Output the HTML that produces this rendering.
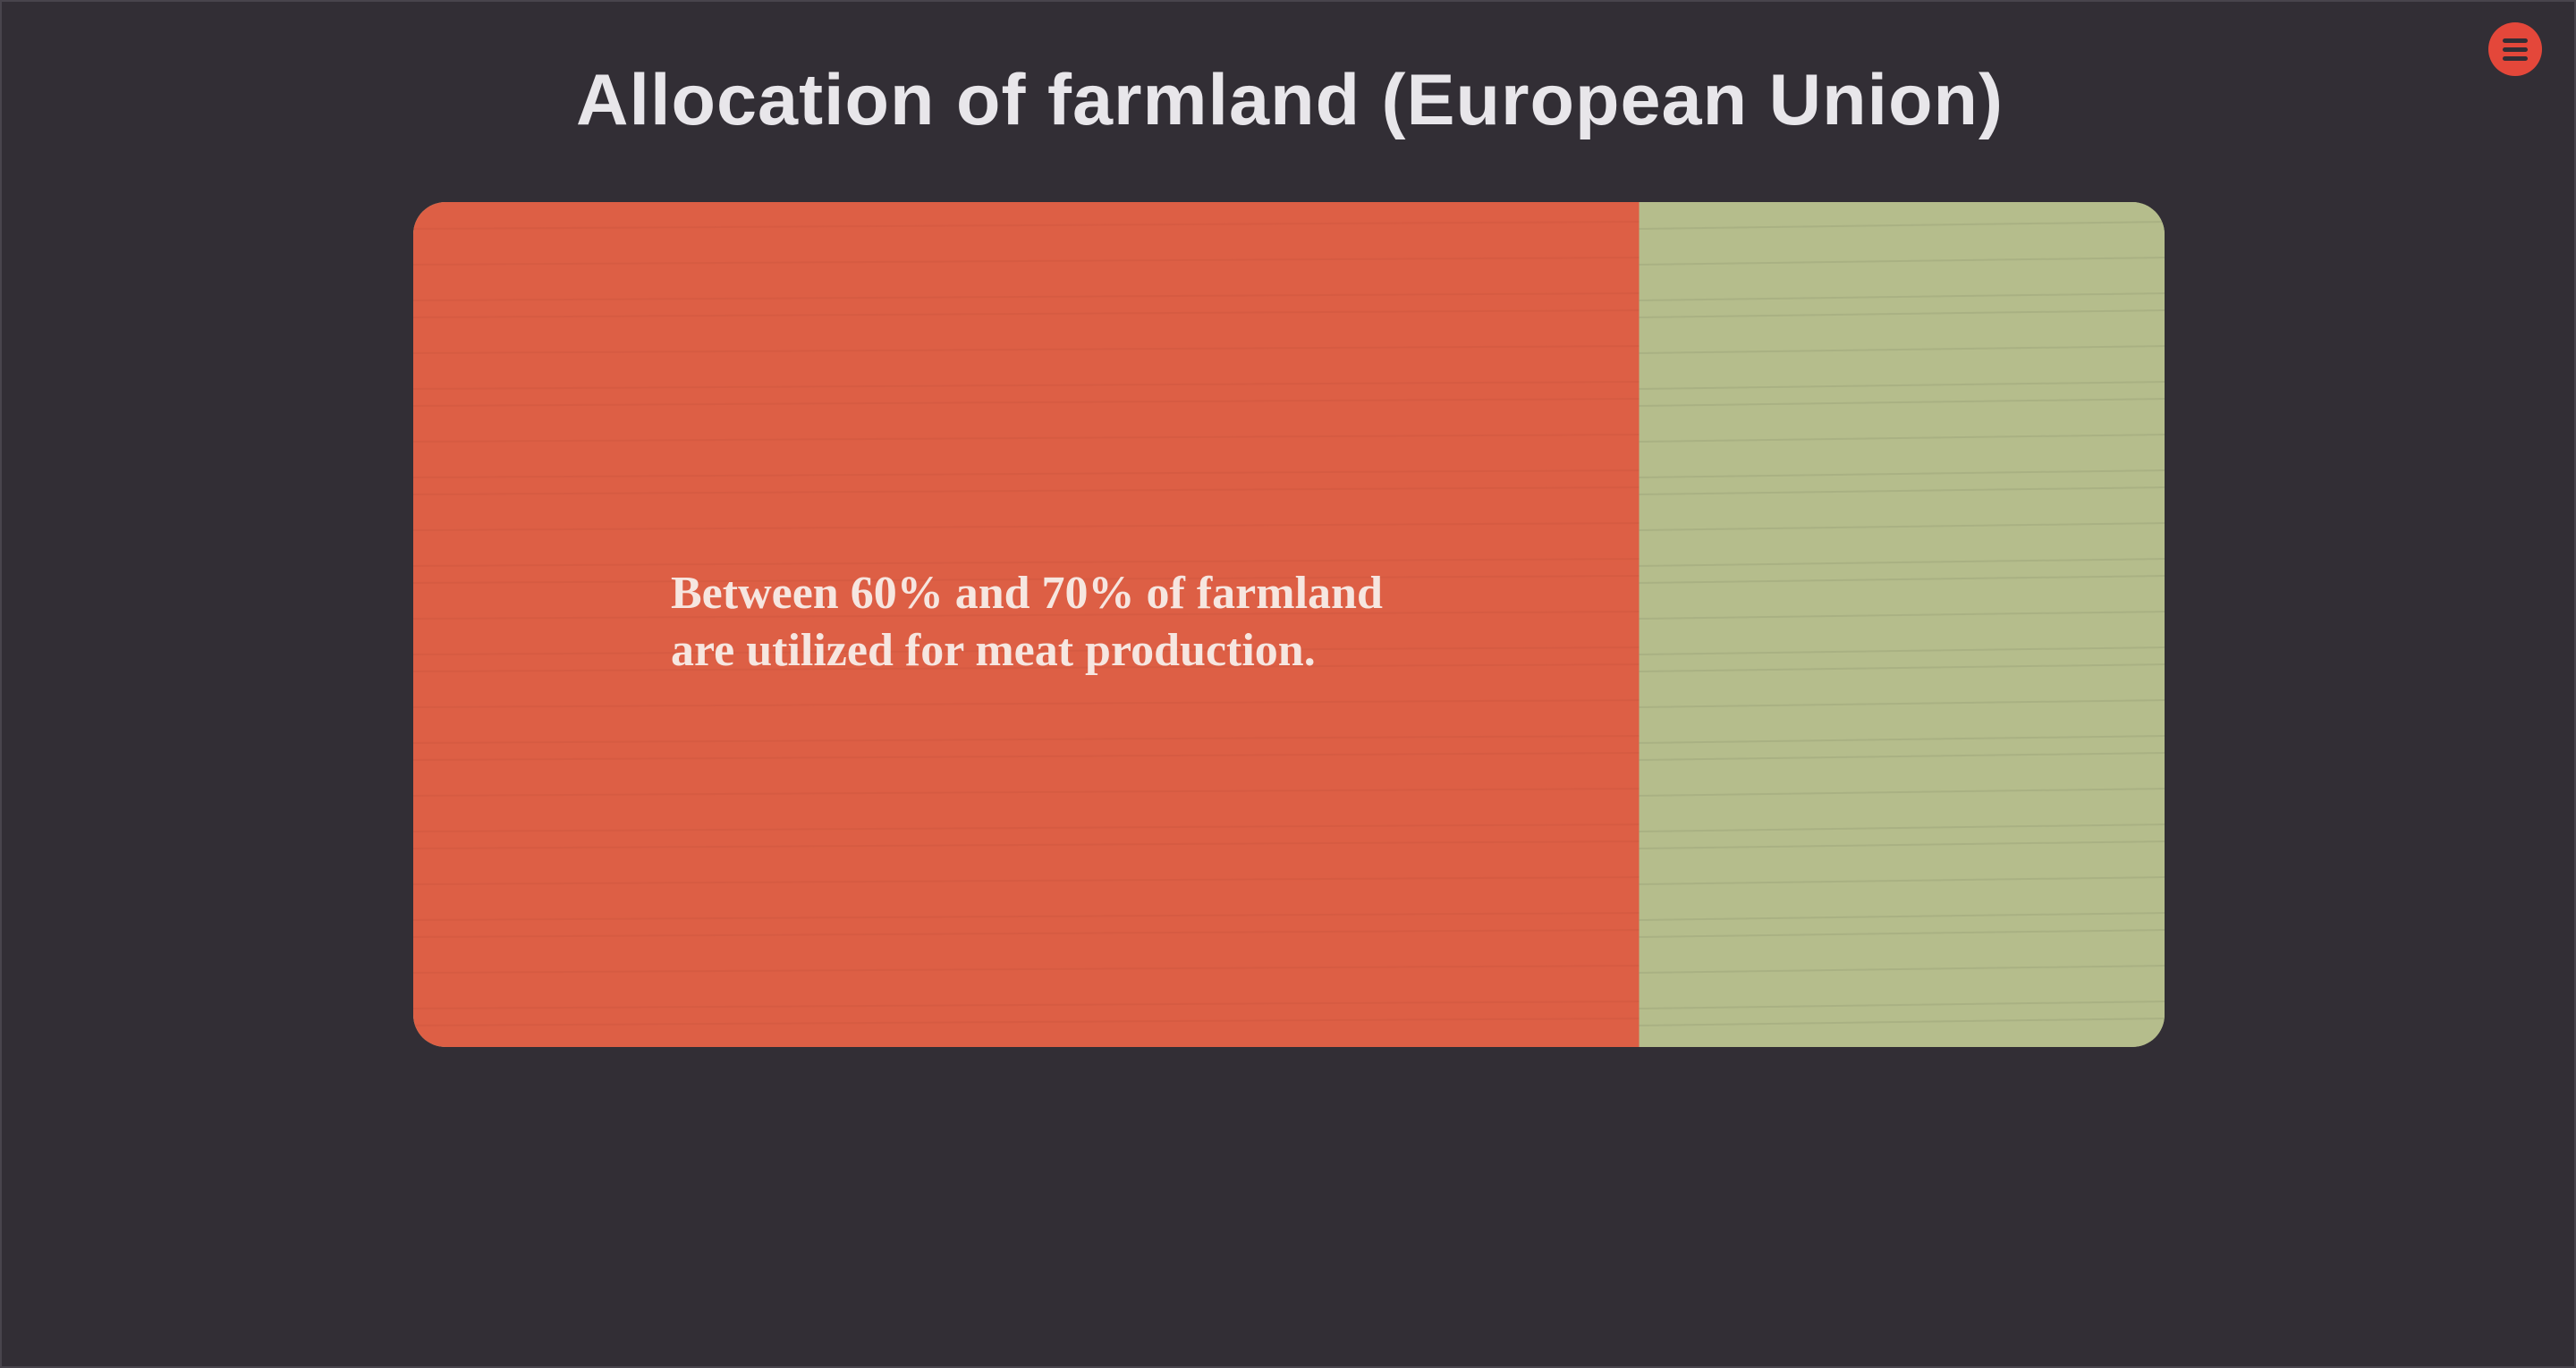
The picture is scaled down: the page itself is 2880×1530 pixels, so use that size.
<!DOCTYPE html>
<html><head><meta charset="utf-8"><style>
html,body{margin:0;padding:0;width:2880px;height:1530px;overflow:hidden;background:#322e35;}
body{position:relative;box-sizing:border-box;border:2px solid #48444c;}
#title{position:absolute;left:0;width:2880px;top:64px;text-align:center;font-family:"Liberation Sans",sans-serif;font-weight:bold;font-size:81px;color:#e8e6ea;letter-spacing:1px;margin:0}
#card{position:absolute;left:460px;top:224px;width:1958px;height:945px;border-radius:36px;overflow:hidden;background:#b5bd8c}
#msg{position:absolute;left:748px;top:630px;font-family:"Liberation Serif",serif;font-weight:bold;font-size:52px;line-height:64px;color:#f6e6e0}
#menu{position:absolute;left:2780px;top:23px;width:60px;height:60px;border-radius:50%;background:#e4473a}
#menu span{position:absolute;left:16px;width:28px;height:5px;border-radius:3px;background:#322e35}
</style></head><body>
<h1 id="title">Allocation of farmland (European Union)</h1>
<div id="card">
<svg width="1958" height="945" style="position:absolute;left:0;top:0" id="svg"></svg>
</div>
<div id="msg">Between 60% and 70% of farmland<br>are utilized for meat production.</div>
<div id="menu"><span style="top:18px"></span><span style="top:28px"></span><span style="top:38px"></span></div>
<script>
const categories=["Meat production","Other use"];
const shares=[70,30];
const colors=["#dd5f45","#b5bd8c"];
const svg=document.getElementById('svg');
const W=1958,H=945;
const x=v=>v/100*W;
let acc=0;
for(let i=0;i<shares.length;i++){
  const r=document.createElementNS('http://www.w3.org/2000/svg','rect');
  r.setAttribute('x',x(acc));r.setAttribute('y',0);
  r.setAttribute('width',x(shares[i]));r.setAttribute('height',H);
  r.setAttribute('fill',colors[i]);
  
  
  svg.appendChild(r);
  for(let k=0;k<28;k++){
    const l=document.createElementNS('http://www.w3.org/2000/svg','line');
    const y=30+k*33+(k%3)*7;
    l.setAttribute('x1',x(acc));l.setAttribute('x2',x(acc+shares[i]));
    l.setAttribute('y1',y);l.setAttribute('y2',y-8);
    l.setAttribute('stroke',i===0?'#c9533c':'#8f9670');l.setAttribute('stroke-width','2');l.setAttribute('opacity','0.3');
    
    
    svg.appendChild(l);
  }
  acc+=shares[i];
}
</script>
</body></html>
